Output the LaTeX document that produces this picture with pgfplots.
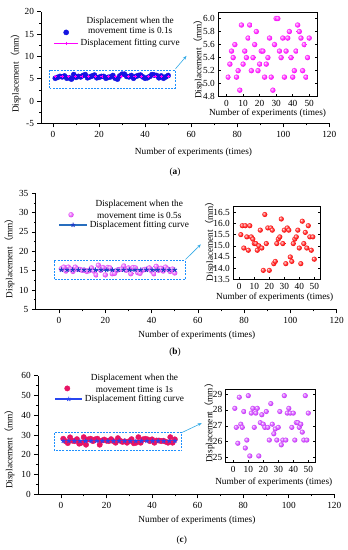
\documentclass[border=0pt]{standalone}
\usepackage{pgfplots}
\pgfplotsset{compat=1.18}
\usepackage{pgfplotstable}
\usepackage{fontspec}
\setmainfont{Liberation Serif}
\newfontfamily\cjk{Noto Sans CJK SC}
\usetikzlibrary{arrows.meta}

\definecolor{dotblue}{RGB}{20,20,225}
\definecolor{fitmag}{RGB}{255,0,255}
\definecolor{ballmag}{RGB}{255,20,255}
\definecolor{ballviolet}{RGB}{205,60,255}
\definecolor{ballpink}{RGB}{230,80,250}
\definecolor{ballred}{RGB}{255,15,15}
\definecolor{dotcrimson}{RGB}{232,20,100}
\definecolor{fitsteel}{RGB}{40,110,190}
\definecolor{starblue}{RGB}{30,60,200}
\definecolor{fitblue}{RGB}{40,70,240}
\definecolor{boxblue}{RGB}{30,144,255}
\definecolor{arrowblue}{RGB}{50,170,230}
\colorlet{bcol}{magenta}

\pgfdeclareradialshading[bcol]{brightball}{\pgfqpoint{-12bp}{12bp}}{%
  color(0bp)=(bcol!5!white); color(8bp)=(bcol!50!white); color(20bp)=(bcol);
  color(36bp)=(bcol!85!black); color(50bp)=(bcol!70!black)}
\pgfdeclareplotmark{bball}{%
  \pgfpathcircle{\pgfpointorigin}{\pgfplotmarksize}%
  \pgfshadepath{brightball}{0}%
  \pgfusepath{discard}}

\newcommand{\fs}{\fontsize{9.3}{10.5}\selectfont}
\newcommand{\fsl}{\fontsize{9.3}{11.6}\selectfont}
\newcommand{\ylab}{Displacement{\cjk （}mm{\cjk ）}}

\pgfplotstableread{
x y
1 5.1
2 5.3
3 5.5
4 5.4
5 5.6
6 5.1
7 5.2
8 4.9
9 5.9
10 5.3
11 5.5
12 5.4
13 5.7
14 5.9
15 5.2
16 5.4
17 5.6
18 5.8
19 5.2
20 5.3
21 5.5
22 5.5
23 5.1
24 5.3
25 5.4
26 5.7
27 5.1
28 4.9
29 5.6
30 6.0
31 6.0
32 5.5
33 5.4
34 5.7
35 5.1
36 5.5
37 5.7
38 5.8
39 5.4
40 5.1
41 5.2
42 5.5
43 5.9
44 5.8
45 5.7
46 5.2
47 5.6
48 5.1
49 5.4
50 5.7
}\dataA

\pgfplotstableread{
x y
1 15.5
2 15.9
3 14.9
4 15.9
5 15.4
6 14.8
7 15.9
8 15.4
9 15.3
10 15.1
11 15.1
12 14.8
13 15.0
14 15.7
15 14.9
16 13.9
17 16.4
18 15.1
19 15.8
20 13.9
21 15.8
22 15.7
23 14.2
24 14.3
25 15.1
26 15.3
27 15.4
28 16.2
29 15.1
30 15.7
31 14.2
32 15.8
33 15.7
34 14.5
35 14.3
36 15.1
37 15.3
38 15.4
39 15.7
40 14.9
41 14.2
42 16.1
43 15.1
44 15.6
45 14.9
46 15.9
47 15.4
48 14.8
49 15.4
50 14.4
}\dataB

\pgfplotstableread{
x y
1 28.1
2 26.9
3 25.9
4 28.8
5 27.1
6 26.9
7 27.9
8 25.6
9 26.1
10 28.9
11 25.1
12 27.8
13 28.1
14 26.9
15 27.8
16 28.1
17 25.1
18 27.2
19 27.7
20 27.1
21 26.9
22 27.9
23 26.9
24 26.1
25 28.4
26 27.1
27 26.5
28 26.8
29 26.1
30 26.9
31 27.9
32 25.8
33 26.1
34 28.9
35 26.1
36 27.8
37 28.1
38 27.8
39 26.9
40 27.8
41 26.1
42 27.2
43 27.2
44 26.9
45 27.1
46 26.6
47 26.1
48 28.9
49 26.1
50 27.8
}\dataC

\pgfplotstableread{
x y
1 5.45
3.9 5.45
6.8 5.45
9.6 5.45
12.5 5.45
15.4 5.45
18.3 5.45
21.2 5.45
24.1 5.45
27 5.45
29.8 5.45
32.7 5.45
35.6 5.45
38.5 5.45
41.4 5.45
44.3 5.45
47.1 5.45
50 5.45
}\fitA

\pgfplotstableread{
x y
1 15.2
3.45 15.2
5.9 15.2
8.35 15.2
10.8 15.2
13.25 15.2
15.7 15.2
18.15 15.2
20.6 15.2
23.05 15.2
25.5 15.2
27.95 15.2
30.4 15.2
32.85 15.2
35.3 15.2
37.75 15.2
40.2 15.2
42.65 15.2
45.1 15.2
47.55 15.2
50 15.2
}\fitB

\pgfplotstableread{
x y
1 27.0
3.45 27.0
5.9 27.0
8.35 27.0
10.8 27.0
13.25 27.0
15.7 27.0
18.15 27.0
20.6 27.0
23.05 27.0
25.5 27.0
27.95 27.0
30.4 27.0
32.85 27.0
35.3 27.0
37.75 27.0
40.2 27.0
42.65 27.0
45.1 27.0
47.55 27.0
50 27.0
}\fitC

\pgfplotsset{
  mainax/.style={
    scale only axis, anchor=south west,
    axis lines=left, axis line style={-, line width=0.8pt},
    tick align=outside, xtick pos=left, ytick pos=left,
    major tick length=4pt, minor tick length=2pt,
    tick style={black, line width=0.6pt},
    minor x tick num=1, minor y tick num=1,
    xmax=120, xtick={0,20,...,120},
    font=\fs, tick label style={font=\fs},
    /pgf/number format/assume math mode=true,
    clip=false,
    xlabel={Number of experiments (times)}, ylabel={\ylab},
    legend cell align=center,
  },
  insetax/.style={
    scale only axis, anchor=south west,
    tick align=inside, xtick pos=left, ytick pos=both, yticklabel pos=left,
    major tick length=2.5pt, minor tick length=1.5pt,
    tick style={black, line width=0.5pt},
    axis line style={line width=0.7pt},
    xmin=-5, xmax=55, xtick={0,10,...,50},
    font=\fs, tick label style={font=\fs},
    /pgf/number format/assume math mode=true,
    xlabel={Number of experiments (times)}, ylabel={\ylab},
  },
  scatimg/.style={legend image code/.code={\draw[##1] plot coordinates {(12pt,#1)};}},
  lineimg/.style={legend image code/.code={\draw[##1, mark repeat=2, mark phase=2] plot coordinates {(0pt,0pt) (#1/2,0pt) (#1,0pt)};}},
}

\begin{document}
\begin{tikzpicture}
\path[use as bounding box] (0,0) rectangle (348pt,550pt);

% ---------------- (a) main
\begin{axis}[mainax, at={(41.5pt,426.7pt)}, width=287.8pt, height=111.6pt,
  xmin=-5, ymin=-5, ymax=20, ytick={-5,0,5,10,15,20},
  xlabel style={at={(axis description cs:0.528,-0.257)}, anchor=center},
  ylabel style={at={(axis description cs:-0.090,0.47)}, anchor=center},
  legend style={at={(axis description cs:0.042,0.975)}, anchor=north west, draw=none, fill=none,
    font=\fs, cells={align=center}, inner sep=0pt, row sep=0pt},
]
\addplot[only marks, mark=*, mark size=2.6pt, color=dotblue, scatimg=-6.5pt] table {\dataA};
\addlegendentry{Displacement when the\\movement time is 0.1s}
\addplot[fitmag, line width=0.8pt, mark=+, mark size=1.6pt, mark options={line width=0.5pt}, lineimg=24pt] table {\fitA};
\addlegendentry{Displacement fitting curve}
\draw[boxblue, dash pattern=on 2pt off 1.2pt, line width=0.8pt] (axis cs:-1.5,2.9) rectangle (axis cs:53,6.9);
\draw[arrowblue, -{Stealth[length=4pt,width=3pt]}, line width=0.6pt] (axis cs:53.2,7.2) -- (axis cs:58,10.1);
\end{axis}

% ---------------- (a) inset
\begin{axis}[insetax, at={(218.3pt,453.3pt)}, width=99.2pt, height=84.7pt,
  ymin=4.8, ymax=6.1, ytick={4.8,5.0,5.2,5.4,5.6,5.8,6.0},
  yticklabel style={/pgf/number format/.cd, fixed, fixed zerofill, precision=1},
  xlabel style={at={(axis description cs:0.496,-0.195)}, anchor=center},
  ylabel style={at={(axis description cs:-0.202,0.47)}, anchor=center},
]
\addplot[only marks, mark=bball, mark size=2.7pt, /utils/exec={\colorlet{bcol}{ballmag}}] table {\dataA};
\end{axis}

% ---------------- (b) main
\begin{axis}[mainax, at={(35.9pt,240.7pt)}, width=300.8pt, height=116pt,
  xmin=-10, ymin=5, ymax=35, ytick={5,10,...,35},
  xlabel style={at={(axis description cs:0.535,-0.222)}, anchor=center},
  ylabel style={at={(axis description cs:-0.088,0.46)}, anchor=center},
  legend style={at={(axis description cs:0.074,0.958)}, anchor=north west, draw=none, fill=none,
    font=\fsl, cells={align=center}, inner sep=0pt, row sep=-3pt},
]
\addplot[only marks, mark=bball, mark size=2.7pt, /utils/exec={\colorlet{bcol}{ballpink}}, scatimg=-4.6pt] table {\dataB};
\addlegendentry{Displacement when the\\movement time is 0.5s}
\addplot[fitsteel, line width=1.4pt, mark=star, mark size=2.4pt, mark options={starblue, line width=0.9pt}, lineimg=28pt] table {\fitB};
\addlegendentry{Displacement fitting curve}
\draw[boxblue, dash pattern=on 2pt off 1.2pt, line width=0.8pt] (axis cs:-2,12.8) rectangle (axis cs:54.5,17.75);
\draw[arrowblue, -{Stealth[length=4pt,width=3pt]}, line width=0.6pt] (axis cs:54.7,17.9) -- (axis cs:61.3,21.8);
\end{axis}

% ---------------- (b) inset
\begin{axis}[insetax, at={(233.3pt,270.7pt)}, width=87pt, height=72.6pt,
  xmin=-4, xmax=54,
  ymin=13.5, ymax=16.75, ytick={13.5,14.0,14.5,15.0,15.5,16.0,16.5},
  yticklabel style={/pgf/number format/.cd, fixed, fixed zerofill, precision=1},
  xlabel style={at={(axis description cs:0.476,-0.25)}, anchor=center},
  ylabel style={at={(axis description cs:-0.268,0.555)}, anchor=center},
]
\addplot[only marks, mark=bball, mark size=2.6pt, /utils/exec={\colorlet{bcol}{ballred}}] table {\dataB};
\end{axis}

% ---------------- (c) main
\begin{axis}[mainax, at={(38.2pt,55.7pt)}, width=296.1pt, height=118.6pt,
  xmin=-10, ymin=0, ymax=60, ytick={0,10,...,60},
  xlabel style={at={(axis description cs:0.536,-0.217)}, anchor=center},
  ylabel style={at={(axis description cs:-0.097,0.40)}, anchor=center},
  legend style={at={(axis description cs:0.055,1.03)}, anchor=north west, draw=none, fill=none,
    font=\fsl, cells={align=center}, inner sep=0pt, row sep=-3pt},
]
\addplot[only marks, mark=*, mark size=2.7pt, color=dotcrimson, scatimg=-4.3pt] table {\dataC};
\addlegendentry{Displacement when the\\movement time is 1s}
\addplot[fitblue, line width=1.2pt, mark=star, mark size=2.4pt, mark options={fitblue, line width=0.9pt}, lineimg=27pt] table {\fitC};
\addlegendentry{Displacement fitting curve}
\draw[boxblue, dash pattern=on 2pt off 1.2pt, line width=0.8pt] (axis cs:-3,22.1) rectangle (axis cs:53,31.4);
\draw[arrowblue, -{Stealth[length=4pt,width=3pt]}, line width=0.6pt] (axis cs:53,31.2) -- (axis cs:61.8,36);
\end{axis}

% ---------------- (c) inset
\begin{axis}[insetax, at={(225.8pt,87.7pt)}, width=90pt, height=73pt,
  ymin=24.7, ymax=29.3, ytick={25,26,27,28,29},
  xlabel style={at={(axis description cs:0.533,-0.268)}, anchor=center},
  ylabel style={at={(axis description cs:-0.183,0.57)}, anchor=center},
]
\addplot[only marks, mark=bball, mark size=2.6pt, /utils/exec={\colorlet{bcol}{ballviolet}}] table {\dataC};
\end{axis}

\node[font=\fs] at (175pt,378pt) {(\textbf{a})};
\node[font=\fs] at (175pt,198pt) {(\textbf{b})};
\node[font=\fs] at (181.7pt,10pt) {(\textbf{c})};
\end{tikzpicture}
\end{document}
